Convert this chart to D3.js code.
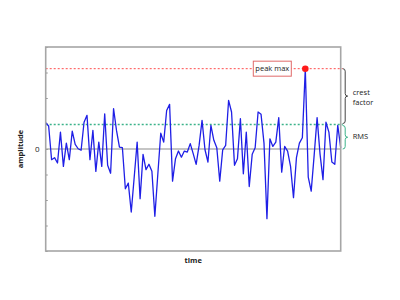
<!DOCTYPE html>
<html>
<head>
<meta charset="utf-8">
<script src="https://cdn.jsdelivr.net/npm/d3@7"></script>
<style>
  body { margin: 0; background: #fff; }
  text { font-family: 'Open Sans', 'Liberation Sans', sans-serif; }
</style>
</head>
<body>
<div id="myDiv"></div>
<script>
//--------------------------------------------------
// Data
//--------------------------------------------------
var signal = [
  1.03, 0.90, -0.42, -0.34, -0.55, 0.66, -0.68, 0.23, -0.42, 0.70,
  0.18, 0.01, -0.05, 1.05, 1.32, -0.42, 0.73, -0.88, 0.27, -0.68,
  1.38, -0.64, -0.95, 1.58, 0.73, 0.07, 0.05, -1.56, -1.34, -2.47,
  -1.11, 0.27, -1.95, -0.21, -0.81, -0.60, -0.87, -2.64, -1.00, 0.62,
  0.27, 1.51, 1.75, -1.26, -0.38, -0.08, -0.32, -0.08, -0.12, 0.21,
  -0.18, -0.60, 0.14, 1.12, -0.03, -0.51, 0.93, 0.34, 0.05, -1.26,
  -0.03, 0.14, 1.91, 1.45, -0.64, -0.38, 1.19, -0.97, 0.66, -1.47,
  -0.21, 0.05, 1.45, 1.36, 0.23, -2.73, 0.40, 0.10, 0.27, 1.23,
  -0.91, 0.10, -0.08, -0.68, -1.91, -0.34, 0.23, 0.44, 3.15, -1.10,
  -1.65, -0.25, 1.23, -0.20, -1.20, 1.05, 0.66, -0.51, -0.60, 0.93,
  0.05
];
var rmsValue = 0.96;
var yTicks = [-4, -3, -2, -1, 0, 1, 2, 3, 4];
var yTickLabels = ['', '', '', '', '0', '', '', '', ''];
var xLabel = 'time';
var yLabel = 'amplitude';
var peakLabel = 'peak max';
var crestLabel = ['crest', 'factor'];
var rmsLabel = 'RMS';

//--------------------------------------------------
// Properties
//--------------------------------------------------
var lineColor = '#1f1fe6';
var frameColor = '#a6a6a6';
var peakColor = '#ff4d4d';
var rmsColor = '#3cb38a';
var braceColor = '#444444';

var width = 400, height = 300;
var plot = {left: 45.7, right: 340.7, top: 47, bottom: 251};

var svg = d3.select('#myDiv')
  .append('svg')
    .attr('width', width)
    .attr('height', height);

var x = d3.scaleLinear()
  .domain([0, signal.length - 1])
  .range([plot.left, plot.right]);

var y = d3.scaleLinear()
  .domain([-4, 4])
  .range([plot.bottom, plot.top]);

var peakIndex = d3.maxIndex(signal);
var peakValue = signal[peakIndex];

// zero line
svg.append('line')
  .attr('x1', plot.left).attr('x2', plot.right)
  .attr('y1', y(0)).attr('y2', y(0))
  .attr('stroke', '#8c8c8c')
  .attr('stroke-width', 1.2);

// inner ticks on the left axis
var yAxis = d3.axisRight(y)
  .tickValues(yTicks)
  .tickSize(2)
  .tickFormat(function (d, i) { return ''; });

var axisG = svg.append('g')
  .attr('transform', 'translate(' + plot.left + ',0)')
  .call(yAxis);
axisG.select('.domain').remove();
axisG.selectAll('line').attr('stroke', '#8c8c8c');

svg.selectAll('.ylab')
  .data(yTicks)
  .enter().append('text')
  .attr('class', 'ylab')
  .attr('x', plot.left - 6)
  .attr('y', function (d) { return y(d); })
  .attr('dy', '0.35em')
  .attr('text-anchor', 'end')
  .attr('font-size', 8)
  .attr('fill', '#222')
  .text(function (d, i) { return yTickLabels[i]; });

// peak and rms reference lines
svg.append('line')
  .attr('x1', plot.left).attr('x2', plot.right + 2)
  .attr('y1', y(peakValue)).attr('y2', y(peakValue))
  .attr('stroke', peakColor)
  .attr('stroke-width', 1)
  .attr('stroke-dasharray', '2,2');

svg.append('line')
  .attr('x1', plot.left).attr('x2', plot.right + 2)
  .attr('y1', y(rmsValue)).attr('y2', y(rmsValue))
  .attr('stroke', rmsColor)
  .attr('stroke-width', 1.5)
  .attr('stroke-dasharray', '2,2');

// signal
var line = d3.line()
  .x(function (d, i) { return x(i); })
  .y(function (d) { return y(d); });

svg.append('path')
  .datum(signal)
  .attr('fill', 'none')
  .attr('stroke', lineColor)
  .attr('stroke-width', 1.3)
  .attr('stroke-linejoin', 'round')
  .attr('d', line);

// frame
svg.append('rect')
  .attr('x', plot.left).attr('y', plot.top)
  .attr('width', plot.right - plot.left)
  .attr('height', plot.bottom - plot.top)
  .attr('fill', 'none')
  .attr('stroke', frameColor)
  .attr('stroke-width', 1.6);

// peak marker and label box
svg.append('circle')
  .attr('cx', x(peakIndex))
  .attr('cy', y(peakValue))
  .attr('r', 3.3)
  .attr('fill', '#ff1a1a');

var boxW = 38, boxH = 15;
var boxX = x(peakIndex) - 52;
svg.append('rect')
  .attr('x', boxX).attr('y', y(peakValue) - boxH / 2)
  .attr('width', boxW).attr('height', boxH)
  .attr('fill', '#fff')
  .attr('stroke', '#e06a6a')
  .attr('stroke-width', 1);

svg.append('text')
  .attr('x', boxX + boxW / 2)
  .attr('y', y(peakValue))
  .attr('dy', '0.35em')
  .attr('text-anchor', 'middle')
  .attr('font-size', 7.5)
  .attr('fill', '#222')
  .text(peakLabel);

// curly brace between two y positions, opening to the left
function bracePath(x0, y0, y1, w) {
  var m = (y0 + y1) / 2;
  var r = w / 2;
  return 'M' + x0 + ',' + y0 +
    ' Q' + (x0 + r) + ',' + y0 + ' ' + (x0 + r) + ',' + (y0 + r) +
    ' L' + (x0 + r) + ',' + (m - r) +
    ' Q' + (x0 + r) + ',' + m + ' ' + (x0 + w) + ',' + m +
    ' Q' + (x0 + r) + ',' + m + ' ' + (x0 + r) + ',' + (m + r) +
    ' L' + (x0 + r) + ',' + (y1 - r) +
    ' Q' + (x0 + r) + ',' + y1 + ' ' + x0 + ',' + y1;
}

svg.append('path')
  .attr('d', bracePath(plot.right + 2, y(peakValue), y(rmsValue) - 1, 5))
  .attr('fill', 'none')
  .attr('stroke', braceColor)
  .attr('stroke-width', 1);

svg.append('path')
  .attr('d', bracePath(plot.right + 2, y(rmsValue) + 1, y(0), 5))
  .attr('fill', 'none')
  .attr('stroke', rmsColor)
  .attr('stroke-width', 1);

var crestMid = (y(peakValue) + y(rmsValue)) / 2;
svg.selectAll('.crest')
  .data(crestLabel)
  .enter().append('text')
  .attr('class', 'crest')
  .attr('x', plot.right + 12)
  .attr('y', function (d, i) { return crestMid - 4 + i * 10; })
  .attr('dy', '0.35em')
  .attr('font-size', 7.5)
  .attr('fill', '#222')
  .text(function (d) { return d; });

svg.append('text')
  .attr('x', plot.right + 12)
  .attr('y', (y(rmsValue) + y(0)) / 2)
  .attr('dy', '0.35em')
  .attr('font-size', 7.5)
  .attr('fill', '#222')
  .text(rmsLabel);

// axis titles
svg.append('text')
  .attr('x', (plot.left + plot.right) / 2)
  .attr('y', plot.bottom + 12)
  .attr('text-anchor', 'middle')
  .attr('font-size', 7.5)
  .attr('font-weight', 'bold')
  .attr('fill', '#222')
  .text(xLabel);

svg.append('text')
  .attr('transform', 'translate(20,' + y(0) + ') rotate(-90)')
  .attr('text-anchor', 'middle')
  .attr('dy', '0.35em')
  .attr('font-size', 7.5)
  .attr('font-weight', 'bold')
  .attr('fill', '#222')
  .text(yLabel);
</script>
</body>
</html>
